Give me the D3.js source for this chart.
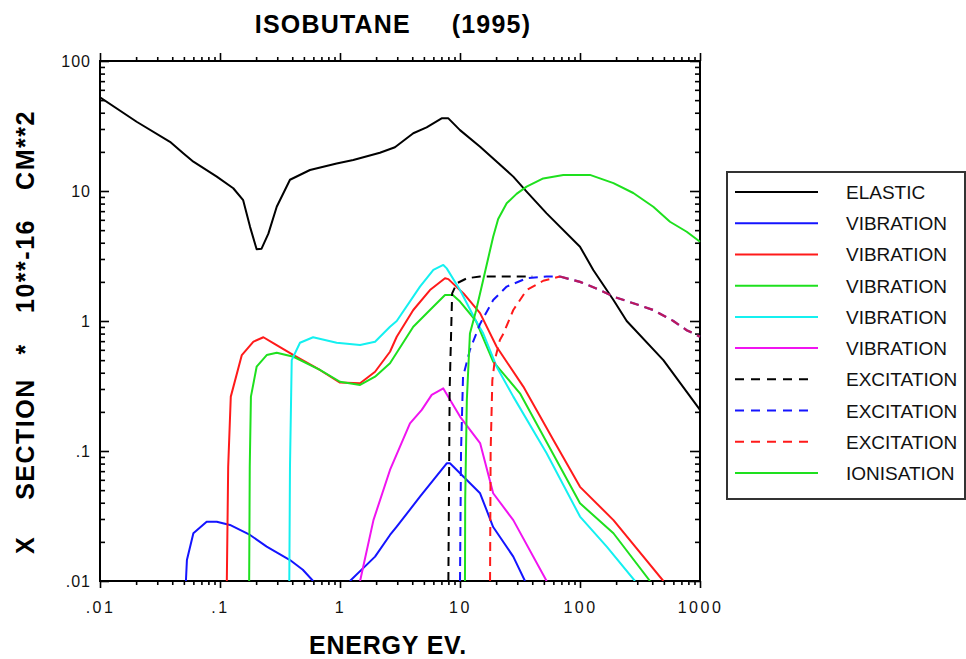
<!DOCTYPE html>
<html>
<head>
<meta charset="utf-8">
<script src="https://cdn.jsdelivr.net/npm/d3@7"></script>
<style>
  html, body { margin: 0; padding: 0; background: #fff; }
  svg { display: block; font-family: "Liberation Sans", Arial, Helvetica, sans-serif; }
</style>
</head>
<body>
<svg id="chart" width="966" height="659"></svg>
<script>
// Electron scattering cross sections for isobutane, energy (eV) vs cross section (1e-16 cm^2)
const elastic = [[0.01,52.6],[0.0202,34.1],[0.0383,23.9],[0.0494,19.5],[0.06,16.8],[0.094,12.9],[0.129,10.5],[0.156,8.5],[0.178,5.3],[0.202,3.56],[0.222,3.6],[0.253,4.7],[0.297,7.57],[0.383,12.2],[0.562,14.5],[0.938,16.3],[1.29,17.3],[2.15,19.7],[2.87,21.7],[4.08,27.8],[5.27,30.9],[7.03,36.2],[8.0,36.2],[10,29.4],[14.7,21.9],[27.8,12.9],[35.9,9.9],[52.7,6.73],[100,3.73],[129,2.47],[190,1.45],[245,1.0],[495,0.5],[1000,0.207]];
const vibration1 = [[0.052,0.01],[0.053,0.0145],[0.060,0.0233],[0.0774,0.0286],[0.094,0.0286],[0.121,0.027],[0.178,0.0226],[0.245,0.0184],[0.383,0.0145],[0.49,0.0122],[0.597,0.01],[0.85,null],[1.21,0.01],[1.96,0.0154],[2.61,0.0226],[2.97,0.0262],[4.64,0.0445],[7.75,0.0804],[8.25,0.0804],[10.7,0.0634],[14.7,0.0473],[18.9,0.026],[27.8,0.0154],[34.8,0.01]];
const vibration2 = [[0.114,0.01],[0.117,0.0757],[0.123,0.262],[0.152,0.547],[0.19,0.693],[0.23,0.75],[0.28,0.674],[0.41,0.547],[0.68,0.42],[1.0,0.336],[1.47,0.332],[1.96,0.407],[2.61,0.58],[2.97,0.757],[4.08,1.215],[5.62,1.73],[7.5,2.13],[8.0,2.1],[10.7,1.63],[14.7,1.15],[20.2,0.634],[33.7,0.313],[60,0.1215],[100,0.053],[190,0.0294],[495,0.01]];
const vibration3 = [[0.175,0.01],[0.177,0.0757],[0.181,0.262],[0.202,0.445],[0.245,0.547],[0.297,0.57],[0.41,0.531],[0.68,0.42],[1.0,0.341],[1.47,0.322],[1.96,0.373],[2.61,0.473],[4.08,0.904],[5.62,1.215],[7.5,1.585],[8.7,1.585],[10,1.41],[13.6,1.0],[18.9,0.487],[31.6,0.278],[100,0.0396],[190,0.0233],[383,0.01]];
const vibration4 = [[0.378,0.01],[0.383,0.0757],[0.396,0.5],[0.464,0.68],[0.597,0.75],[0.938,0.68],[1.47,0.653],[1.96,0.693],[2.61,0.904],[2.97,1.0],[4.64,1.84],[6.0,2.47],[7.26,2.7],[7.75,2.54],[10,1.73],[13.6,1.0],[15.6,0.804],[20.2,0.445],[27.8,0.262],[52.7,0.096],[100,0.0313],[167,0.0184],[287,0.01]];
const vibration5 = [[1.47,0.01],[1.9,0.0294],[2.61,0.0715],[3.83,0.163],[4.8,0.207],[5.81,0.27],[7.26,0.303],[10,0.184],[14.7,0.115],[18.9,0.0473],[27.8,0.0294],[52.7,0.01]];
const excitation1 = [[8.0,0.01],[8.2,0.3],[8.6,1.63],[9.4,1.95],[11.4,2.13],[14.7,2.2],[40,2.2]];
const excitation2 = [[10.0,0.01],[10.2,0.1],[10.6,0.373],[12.1,0.6],[14.7,0.95],[18.9,1.45],[24.5,1.84],[35.9,2.13],[52.7,2.2],[68,2.2]];
const excitation3 = [[17.8,0.01],[18.0,0.1],[18.6,0.35],[19.5,0.5],[21.5,0.715],[23,0.8],[27.8,1.215],[35.9,1.73],[49.4,2.04],[68,2.2]];
// shared high-energy branch followed by the blue and red excitation curves
const excitationTail = [[68,2.2],[100,2.0],[147,1.73],[190,1.54],[278,1.37],[408,1.215],[600,1.0],[775,0.85],[1000,0.757]];
const ionisation = [[11.0,0.01],[11.05,0.042],[11.4,0.247],[12.1,0.8],[13.6,1.2],[15.6,2.07],[18.9,4.45],[20.8,6.1],[24.5,8.04],[29.6,9.5],[35.9,10.8],[49.4,12.5],[72.6,13.3],[121,13.3],[190,11.5],[278,9.65],[408,7.57],[562,5.8],[775,4.86],[1000,4.07]];

const legendLabels = ["ELASTIC","VIBRATION","VIBRATION","VIBRATION","VIBRATION","VIBRATION","EXCITATION","EXCITATION","EXCITATION","IONISATION"];
const seriesColors = ["#000000","#1414ff","#ff1a1a","#1ee01e","#14f0f0","#f014f0","#000000","#1414ff","#ff1a1a","#1ee01e"];
const seriesDashed = [false,false,false,false,false,false,true,true,true,false];
const seriesData = [elastic,vibration1,vibration2,vibration3,vibration4,vibration5,excitation1,excitation2,excitation3,ionisation];
const tailOf = [null,null,null,null,null,null,null,excitationTail,excitationTail,null];

const xTickLabels = [".01",".1","1","10","100","1000"];
const yTickLabels = [".01",".1","1","10","100"];
const yTitleParts = ["X","SECTION","*","10**-16","CM**2"];

const svg = d3.select("#chart");
const plotLeft = 100, plotRight = 700, plotTop = 61, plotBottom = 581;

const x = d3.scaleLog().domain([0.01, 1000]).range([plotLeft, plotRight]);
const y = d3.scaleLog().domain([0.01, 100]).range([plotBottom, plotTop]);

const majorX = [0.01, 0.1, 1, 10, 100, 1000];
const majorY = [0.01, 0.1, 1, 10, 100];
const minorX = [], minorY = [];
for (let d = 0.01; d < 999; d *= 10) for (let k = 2; k <= 9; k++) minorX.push(+(d * k).toPrecision(3));
for (let d = 0.01; d < 99; d *= 10) for (let k = 2; k <= 9; k++) minorY.push(+(d * k).toPrecision(3));

const axisStyle = g => {
  g.select(".domain").remove();
  g.selectAll(".tick line").attr("stroke", "#000").attr("stroke-width", 1.6);
};

// bottom axis: outward ticks with labels
svg.append("g").attr("transform", `translate(0,${plotBottom})`)
  .call(d3.axisBottom(x).tickValues(minorX).tickSize(4).tickFormat(""))
  .call(axisStyle);
svg.append("g").attr("transform", `translate(0,${plotBottom})`)
  .call(d3.axisBottom(x).tickValues(majorX).tickSize(7).tickPadding(14)
        .tickFormat((d, i) => xTickLabels[i]))
  .call(axisStyle)
  .call(g => g.selectAll("text").attr("font-size", 16).attr("fill", "#111")
        .attr("letter-spacing", 2.5)
        .attr("font-family", '"Liberation Sans", Arial, sans-serif'));

// top axis: outward ticks
svg.append("g").attr("transform", `translate(0,${plotTop})`)
  .call(d3.axisTop(x).tickValues(minorX).tickSize(4).tickFormat(""))
  .call(axisStyle);
svg.append("g").attr("transform", `translate(0,${plotTop})`)
  .call(d3.axisTop(x).tickValues(majorX).tickSize(8).tickFormat(""))
  .call(axisStyle);

// left axis: inward ticks with labels
svg.append("g").attr("transform", `translate(${plotLeft},0)`)
  .call(d3.axisLeft(y).tickValues(minorY).tickSize(-5).tickFormat(""))
  .call(axisStyle);
svg.append("g").attr("transform", `translate(${plotLeft},0)`)
  .call(d3.axisLeft(y).tickValues(majorY).tickSize(-9).tickPadding(9)
        .tickFormat((d, i) => yTickLabels[i]))
  .call(axisStyle)
  .call(g => g.selectAll("text").attr("font-size", 16).attr("fill", "#111")
        .attr("letter-spacing", 1)
        .attr("font-family", '"Liberation Sans", Arial, sans-serif'));

// right axis: inward ticks
svg.append("g").attr("transform", `translate(${plotRight},0)`)
  .call(d3.axisRight(y).tickValues(minorY).tickSize(-5).tickFormat(""))
  .call(axisStyle);
svg.append("g").attr("transform", `translate(${plotRight},0)`)
  .call(d3.axisRight(y).tickValues(majorY).tickSize(-10).tickFormat(""))
  .call(axisStyle);

// plot frame
svg.append("rect").attr("x", plotLeft).attr("y", plotTop)
  .attr("width", plotRight - plotLeft).attr("height", plotBottom - plotTop)
  .attr("fill", "none").attr("stroke", "#000").attr("stroke-width", 2);

svg.append("clipPath").attr("id", "plotClip")
  .append("rect").attr("x", plotLeft).attr("y", plotTop - 1)
  .attr("width", plotRight - plotLeft + 1).attr("height", plotBottom - plotTop + 1);

const line = d3.line()
  .defined(d => d[1] != null)
  .x(d => x(d[0])).y(d => y(d[1]));

const plot = svg.append("g").attr("clip-path", "url(#plotClip)");
const dash = "9,6";

seriesData.forEach((data, i) => {
  plot.append("path").datum(data)
    .attr("d", line)
    .attr("fill", "none")
    .attr("stroke", seriesColors[i])
    .attr("stroke-width", 2)
    .attr("stroke-linejoin", "round")
    .attr("stroke-dasharray", seriesDashed[i] ? dash : null);
});
// high-energy excitation branch (blue under red)
tailOf.forEach((data, i) => {
  if (!data) return;
  plot.append("path").datum(data)
    .attr("d", line)
    .attr("fill", "none")
    .attr("stroke", seriesColors[i])
    .attr("stroke-opacity", i === 8 ? 0.72 : 1)
    .attr("stroke-width", 2.2)
    .attr("stroke-dasharray", dash);
});

// title and axis titles
svg.append("text").attr("x", 393).attr("y", 33).attr("text-anchor", "middle")
  .attr("font-size", 25).attr("font-weight", "bold").attr("letter-spacing", 1.2)
  .style("white-space", "pre")
  .text("ISOBUTANE     (1995)");

svg.append("text").attr("x", 388).attr("y", 654).attr("text-anchor", "middle")
  .attr("font-size", 25).attr("font-weight", "bold").attr("letter-spacing", 0.8)
  .text("ENERGY EV.");

// vertical title, each word centred at its own position along the axis
const yTitleCentres = [545, 439, 349, 266, 150];
const yTitle = svg.append("text")
  .attr("transform", "translate(34,0) rotate(-90)")
  .attr("text-anchor", "middle")
  .attr("font-size", 25).attr("font-weight", "bold").attr("letter-spacing", 1.5);
yTitleParts.forEach((p, i) => {
  yTitle.append("tspan").attr("x", -yTitleCentres[i]).attr("y", 0).text(p);
});

// legend
const legend = svg.append("g");
legend.append("rect").attr("x", 727).attr("y", 172).attr("width", 238).attr("height", 327)
  .attr("fill", "#fff").attr("stroke", "#333").attr("stroke-width", 2);
const rowY = d3.scalePoint().domain(d3.range(legendLabels.length)).range([192, 473]);
legendLabels.forEach((lab, i) => {
  const yy = rowY(i);
  legend.append("line").attr("x1", 735).attr("x2", seriesDashed[i] ? 812 : 818)
    .attr("y1", yy).attr("y2", yy)
    .attr("stroke", seriesColors[i]).attr("stroke-width", 2)
    .attr("stroke-dasharray", seriesDashed[i] ? "9,7" : null);
  legend.append("text").attr("x", 846).attr("y", yy + 7)
    .attr("font-size", 19).attr("fill", "#111").text(lab);
});
</script>
</body>
</html>
